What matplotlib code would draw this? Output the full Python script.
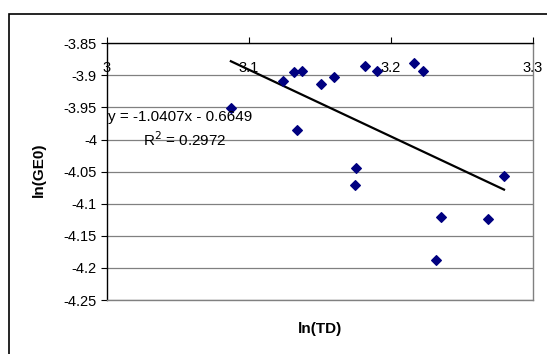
import matplotlib.pyplot as plt
from matplotlib.patches import Rectangle
import numpy as np

plt.rcParams['font.family'] = ['Liberation Sans', 'DejaVu Sans']

# datos
ln_td = [3.0874, 3.1242, 3.1319, 3.1376, 3.1336, 3.1507, 3.1601, 3.1816, 3.1903,
         3.2161, 3.2224, 3.1753, 3.1746, 3.2796, 3.2356, 3.2684, 3.2314]
ln_ge0 = [-3.951, -3.908, -3.895, -3.893, -3.985, -3.913, -3.902, -3.886, -3.893,
          -3.881, -3.893, -4.044, -4.071, -4.057, -4.121, -4.124, -4.188]
pendiente = -1.0407
intercepto = -0.6649
r2 = 0.2972
xticks = [3, 3.1, 3.2, 3.3]
yticks = [-3.85, -3.9, -3.95, -4, -4.05, -4.1, -4.15, -4.2, -4.25]

fig = plt.figure(figsize=(5.47, 3.54), dpi=100)
ax = fig.add_axes([0.195, 0.1525, 0.7794, 0.7252])

# marco exterior del area del grafico (cortado a la derecha y abajo)
fig.patches.append(Rectangle((9 / 547, -0.05), 1.0, 1 - 14 / 354 + 0.05,
                             transform=fig.transFigure, fill=False,
                             edgecolor='black', linewidth=1.2))

for yv in yticks:
    ax.axhline(yv, color='#808080', linewidth=0.9, zorder=1)

ax.scatter(ln_td, ln_ge0, marker='D', s=24, color='#000080', zorder=3)

# linea de tendencia
xs = np.array([min(ln_td), max(ln_td)])
ax.plot(xs, pendiente * xs + intercepto, color='black', linewidth=1.6, zorder=2)

ax.set_xlim(3, 3.3)
ax.set_ylim(-4.25, -3.85)
ax.set_xticks(xticks)
ax.set_xticklabels(['3', '3.1', '3.2', '3.3'])
ax.set_yticks(yticks)
ax.set_yticklabels(['-3.85', '-3.9', '-3.95', '-4', '-4.05', '-4.1', '-4.15', '-4.2', '-4.25'])

ax.xaxis.tick_top()
ax.tick_params(axis='x', direction='out', length=4, pad=-27, labelsize=10.5, color='black')
ax.tick_params(axis='y', direction='out', length=4, pad=3, labelsize=10.5, color='black')

for lado in ['right', 'bottom']:
    ax.spines[lado].set_color('#808080')
    ax.spines[lado].set_linewidth(1.0)
for lado in ['left', 'top']:
    ax.spines[lado].set_color('black')
    ax.spines[lado].set_linewidth(1.0)

ax.text(3.001, -3.9655, 'y = -1.0407x - 0.6649', fontsize=11, va='center', ha='left', zorder=4)
ax.text(3.0255, -4.0005, 'R$^2$ = %.4f' % r2, fontsize=11, va='center', ha='left', zorder=4)

fig.text(320 / 547, 1 - 329 / 354, 'ln(TD)', fontsize=11, fontweight='bold',
         ha='center', va='center')
fig.text(39 / 547, 1 - 170 / 354, 'ln(GE0)', fontsize=11, fontweight='bold',
         ha='center', va='center', rotation=90)

fig.savefig('out.png', dpi=100)
